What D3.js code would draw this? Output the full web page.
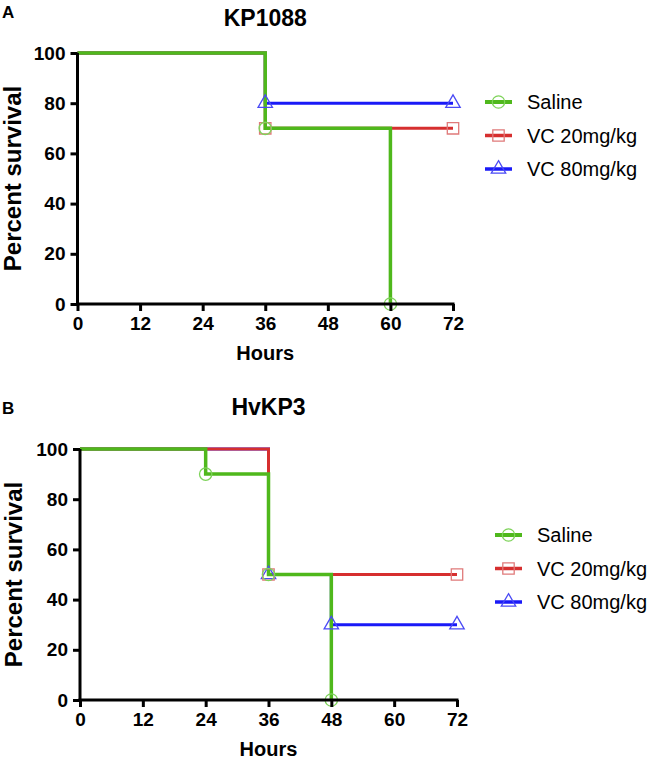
<!DOCTYPE html>
<html>
<head>
<meta charset="utf-8">
<script src="https://cdn.jsdelivr.net/npm/d3@7"></script>
<style>
  body { margin: 0; background: #fff; }
  svg { font-family: "Liberation Sans", Arial, sans-serif; }
</style>
</head>
<body>
<svg width="650" height="761"></svg>
<script>
const seriesNames = ["Saline", "VC 20mg/kg", "VC 80mg/kg"];
const xTicks = [0, 12, 24, 36, 48, 60, 72];
const yTicks = [0, 20, 40, 60, 80, 100];

// KP1088 survival steps [hour, percent]
const kpSaline = [[0, 100], [36, 70], [60, 0]];
const kpVc20 = [[0, 100], [36, 70], [72, 70]];
const kpVc80 = [[0, 100], [36, 80], [72, 80]];

// HvKP3 survival steps
const hvSaline = [[0, 100], [24, 90], [36, 50], [48, 0]];
const hvVc20 = [[0, 100], [36, 50], [72, 50]];
const hvVc80 = [[0, 100], [36, 50], [48, 30], [72, 30]];

const colors = ["#4fb81c", "#d62f2f", "#1a1af7"];
const markColors = ["#7ed35a", "#e07a7a", "#4a4af5"];
const lineW = [3.5, 3, 3];
const symbols = [d3.symbolCircle, d3.symbolSquare, d3.symbolTriangle];
const symSize = [120, 130, 90];

const svg = d3.select("svg");

function drawPanel(p) {
  const g = svg.append("g");
  const x = d3.scaleLinear().domain([0, 72]).range([p.left, p.right]);
  const y = d3.scaleLinear().domain([0, 100]).range([p.bottom, p.top]);

  // lines, blue first so green ends up on top
  const order = [2, 1, 0];
  const line = d3.line()
    .x(d => x(d[0]))
    .y(d => y(d[1]))
    .curve(d3.curveStepAfter);

  order.forEach(i => {
    g.append("path")
      .attr("d", line(p.series[i]))
      .attr("fill", "none")
      .attr("stroke", colors[i])
      .attr("stroke-width", lineW[i]);
  });

  order.forEach(i => {
    g.selectAll(null)
      .data(p.series[i].slice(1))
      .join("path")
      .attr("transform", d => `translate(${x(d[0])},${y(d[1])})`)
      .attr("d", d3.symbol(symbols[i], symSize[i]))
      .attr("fill", "none")
      .attr("stroke", markColors[i])
      .attr("stroke-width", 1.3);
  });

  // axes
  const xAxis = g.append("g")
    .attr("transform", `translate(0,${p.bottom})`)
    .call(d3.axisBottom(x).tickValues(xTicks).tickSize(7).tickSizeOuter(0).tickPadding(6));
  const yAxis = g.append("g")
    .attr("transform", `translate(${p.left},0)`)
    .call(d3.axisLeft(y).tickValues(yTicks).tickSize(7).tickSizeOuter(0).tickPadding(5));

  [xAxis, yAxis].forEach(a => {
    a.select(".domain").attr("stroke", "#000").attr("stroke-width", 3);
    a.selectAll(".tick line").attr("stroke", "#000").attr("stroke-width", 3);
    a.selectAll(".tick text")
      .attr("fill", "#000")
      .attr("font-size", 19)
      .attr("font-weight", "bold")
      .attr("font-family", "Liberation Sans, Arial, sans-serif");
  });
  // extend domain lines to cover the corner
  xAxis.select(".domain").attr("d", `M${p.left - 1.5},0H${p.right + 1.5}`);
  yAxis.select(".domain").attr("d", `M0,${p.top}V${p.bottom + 1.5}`);

  // titles
  g.append("text")
    .attr("x", (p.left + p.right) / 2)
    .attr("y", p.titleY)
    .attr("text-anchor", "middle")
    .attr("font-size", 23)
    .attr("font-weight", "bold")
    .text(p.title);

  g.append("text")
    .attr("x", 2)
    .attr("y", p.labelY)
    .attr("font-size", 17)
    .attr("font-weight", "bold")
    .text(p.label);

  g.append("text")
    .attr("x", (p.left + p.right) / 2)
    .attr("y", p.bottom + 56)
    .attr("text-anchor", "middle")
    .attr("font-size", 20)
    .attr("font-weight", "bold")
    .text("Hours");

  g.append("text")
    .attr("transform", `translate(${p.yLabelX},${(p.top + p.bottom) / 2}) rotate(-90)`)
    .attr("text-anchor", "middle")
    .attr("font-size", 24)
    .attr("font-weight", "bold")
    .text("Percent survival");

  // legend
  const leg = g.append("g").attr("transform", `translate(${p.legX},${p.legY})`);
  seriesNames.forEach((name, i) => {
    const row = leg.append("g").attr("transform", `translate(0,${i * 33.5})`);
    row.append("line")
      .attr("x1", 0).attr("x2", 27)
      .attr("stroke", colors[i])
      .attr("stroke-width", lineW[i] + 0.5);
    row.append("path")
      .attr("transform", "translate(13.5,0)")
      .attr("d", d3.symbol(symbols[i], symSize[i]))
      .attr("fill", "none")
      .attr("stroke", markColors[i])
      .attr("stroke-width", 1.3);
    row.append("text")
      .attr("x", 42)
      .attr("y", 7)
      .attr("font-size", 20)
      .text(name);
  });
}

drawPanel({
  series: [kpSaline, kpVc20, kpVc80],
  left: 77.5, right: 453, top: 53, bottom: 304,
  title: "KP1088", titleY: 26, label: "A", labelY: 18,
  yLabelX: 21, legX: 485, legY: 102
});

drawPanel({
  series: [hvSaline, hvVc20, hvVc80],
  left: 80, right: 457, top: 449, bottom: 700,
  title: "HvKP3", titleY: 415, label: "B", labelY: 414,
  yLabelX: 22, legX: 495, legY: 535
});
</script>
</body>
</html>
